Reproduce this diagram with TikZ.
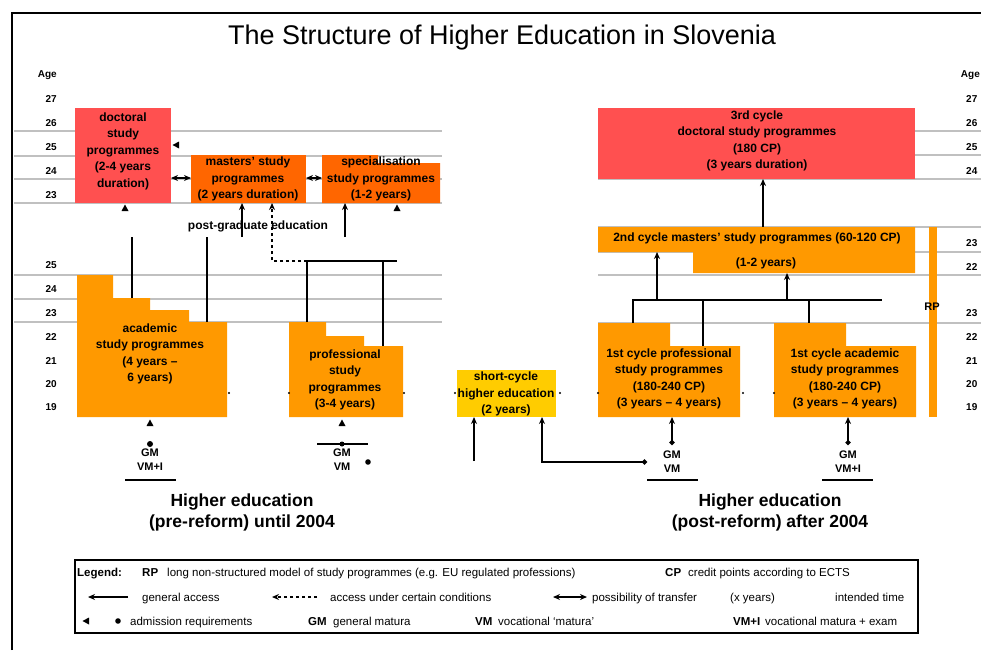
\documentclass[tikz,border=0pt]{standalone}
\usepackage{fontspec}
\setmainfont{Liberation Sans}
\usetikzlibrary{arrows.meta}
\definecolor{docred}{HTML}{FF5050}
\definecolor{mastorange}{HTML}{FF6600}
\definecolor{progorange}{HTML}{FF9900}
\definecolor{shortyellow}{HTML}{FFCC00}
\definecolor{gridgray}{HTML}{C0C0C0}
\newcommand\uptri[2]{\fill (#1,#2-3.5) -- (#1-3.5,#2+3) -- (#1+3.5,#2+3) -- cycle;}
\newcommand\lefttri[2]{\fill (#1-3.5,#2) -- (#1+3,#2-3.5) -- (#1+3,#2+3.5) -- cycle;}
\newcommand\tinymark[2]{\fill (#1,#2) circle (1.1pt);}
\begin{document}
\begin{tikzpicture}[x=1pt,y=-1pt,
  boxtxt/.style={align=center,font=\bfseries\fontsize{12}{16.5}\selectfont,inner sep=0pt},
  agetxt/.style={font=\bfseries\fontsize{10}{12}\selectfont,inner sep=0pt},
  smalltxt/.style={align=center,font=\bfseries\fontsize{11}{14}\selectfont,inner sep=0pt},
  gridline/.style={draw=gridgray,line width=1.6pt},
  conn/.style={line width=1.3pt},
  htip/.tip={Stealth[length=7pt,width=6pt]},
  arr/.style={conn,-htip},
  darr/.style={conn,htip-htip},
  dotarr/.style={conn,{Circle[length=5pt]}-htip},
  legtxt/.style={font=\fontsize{11.5}{13}\selectfont,anchor=base west,inner sep=0pt},
  legkey/.style={font=\bfseries\fontsize{11.5}{13}\selectfont,anchor=base west,inner sep=0pt},
  headtxt/.style={font=\bfseries\fontsize{17.5}{21}\selectfont,align=center,inner sep=0pt},
]
\useasboundingbox (0,0) rectangle (981,650);
\fill[white] (0,0) rectangle (981,650);

% frame
\draw[line width=2pt] (12,650) -- (12,13) -- (981,13);

% title
\node[font=\fontsize{27}{32}\selectfont,inner sep=0pt] (title) at (502,38) {The Structure of Higher Education in Slovenia};

% grid lines
\foreach \yy in {131,156,179,203,275,299,322} {\draw[gridline] (14,\yy) -- (442,\yy);}
\foreach \yy in {131,155,179,227,252,275,323} {\draw[gridline] (598,\yy) -- (981,\yy);}

% age labels left
\node[agetxt,anchor=east] (ageL) at (57,75) {Age};
\foreach \a/\yy in {27/99,26/123,25/147,24/171,23/195,25/265,24/289,23/313,22/337,21/361,20/384,19/407}
  {\node[agetxt,anchor=east] (ageL-\yy) at (57,\yy) {\a};}
% age labels right
\node[agetxt,anchor=east] (ageR) at (980,75) {Age};
\foreach \a/\yy in {27/99,26/123,25/147,24/171,23/243,22/267,23/313,22/337,21/361,20/384,19/407}
  {\node[agetxt,anchor=west] (ageR-\yy) at (966,\yy) {\a};}

% ---------- left boxes ----------
\fill[docred] (75,108) rectangle (171,203);
\fill[mastorange] (191,155) rectangle (306,203);
\fill[mastorange] (322,155) -- (378,155) -- (378,163) -- (440,163) -- (440,203) -- (322,203) -- cycle;
\fill[progorange] (77,275) -- (113,275) -- (113,298) -- (150,298) -- (150,310) -- (189,310) -- (189,322) -- (227,322) -- (227,417) -- (77,417) -- cycle;
\fill[progorange] (289,322) -- (326,322) -- (326,336) -- (364,336) -- (364,346) -- (403,346) -- (403,417) -- (289,417) -- cycle;
\fill[shortyellow] (457,370) rectangle (556,417);

\node[boxtxt] (doctoral) at (123,151) {doctoral\\study\\programmes\\(2-4 years\\duration)};
\node[boxtxt] (masters) at (248,179) {masters' study\\programmes\\(2 years duration)};
\node[boxtxt] (special) at (381,179) {specialisation\\study programmes\\(1-2 years)};
\node[boxtxt] (postgrad) at (258,226) {post-graduate education};
\node[boxtxt] (academic) at (150,354) {academic\\study programmes\\(4 years --\\6 years)};
\node[boxtxt] (professional) at (345,380) {professional\\study\\programmes\\(3-4 years)};
\node[boxtxt] (shortcycle) at (506,394) {short-cycle\\higher education\\(2 years)};

% ---------- right boxes ----------
\fill[docred] (598,108) rectangle (915,179);
\fill[progorange] (598,227) -- (915,227) -- (915,273) -- (693,273) -- (693,252) -- (598,252) -- cycle;
\fill[progorange] (598,323) -- (670,323) -- (670,346) -- (740,346) -- (740,417) -- (598,417) -- cycle;
\fill[progorange] (774,323) -- (846,323) -- (846,346) -- (916,346) -- (916,417) -- (774,417) -- cycle;
\fill[progorange] (929,227) rectangle (937,417);

\node[boxtxt] (doctoralR) at (757,141) {3rd cycle\\doctoral study programmes\\(180 CP)\\(3 years duration)};
\node[boxtxt] (mastersR) at (757,238) {2nd cycle masters' study programmes (60-120 CP)};
\node[boxtxt] (mastersRdur) at (766,263) {(1-2 years)};
\node[boxtxt] (profR) at (669,379) {1st cycle professional\\study programmes\\(180-240 CP)\\(3 years -- 4 years)};
\node[boxtxt] (acadR) at (845,379) {1st cycle academic\\study programmes\\(180-240 CP)\\(3 years -- 4 years)};
\node[smalltxt] (rp) at (932,307) {RP};

% ---------- left connectors ----------
\coordinate (docE) at (171,178); \coordinate (masW) at (191,178);
\coordinate (masE) at (306,178); \coordinate (speW) at (322,178);
\draw[darr] (docE) -- (masW);
\draw[darr] (masE) -- (speW);
\lefttri{176}{145}
\uptri{125}{208}
\uptri{397}{208}
\coordinate (acS2) at (132,298); \coordinate (acS2t) at (132,237);
\coordinate (acS4) at (207,322); \coordinate (acS4t) at (207,237);
\draw[conn] (acS2) -- (acS2t);
\draw[conn] (acS4) -- (acS4t);
\coordinate (pgA) at (242,237); \coordinate (masB1) at (242,203);
\draw[arr] (pgA) -- (masB1);
\coordinate (prJ) at (307,261); \coordinate (prD) at (272,261); \coordinate (masB2) at (272,203);
\draw[arr,dashed] (prJ) -- (prD) -- (masB2);
\coordinate (prT1) at (307,322); \coordinate (prJe) at (397,261);
\coordinate (prT2a) at (383,261); \coordinate (prT2) at (383,346);
\draw[conn] (prT1) -- (prJ) -- (prJe);
\draw[conn] (prT2a) -- (prT2);
\coordinate (spA) at (345,237); \coordinate (speB) at (345,203);
\draw[arr] (spA) -- (speB);

% admission left
\uptri{150}{423}
\fill (150,444) circle (3pt);
\node[smalltxt] (reqA) at (150,460) {GM\\VM+I};
\coordinate (ulA1) at (125,480); \coordinate (ulA2) at (176,480);
\draw[conn] (ulA1) -- (ulA2);
\uptri{342}{423}
\coordinate (ulP1) at (317,444); \coordinate (ulP2) at (368,444);
\draw[conn] (ulP1) -- (ulP2);
\fill (342,444) circle (2.5pt);
\node[smalltxt] (reqP) at (342,460) {GM\\VM};
\fill (368,462) circle (2.8pt);

% ---------- middle connectors ----------
\coordinate (scA) at (474,461); \coordinate (scB1) at (474,417);
\draw[arr] (scA) -- (scB1);
\coordinate (scD) at (647,462); \coordinate (scC) at (542,462); \coordinate (scB2) at (542,417);
\draw[dotarr] (scD) -- (scC) -- (scB2);

% ---------- right connectors ----------
\coordinate (maT) at (763,227); \coordinate (drB) at (763,179);
\draw[arr] (maT) -- (drB);
\coordinate (bus0) at (633,323); \coordinate (bus1) at (633,300); \coordinate (bus2) at (882,300);
\draw[conn] (bus0) -- (bus1) -- (bus2);
\coordinate (busP) at (703,300); \coordinate (prS) at (703,346);
\draw[conn] (busP) -- (prS);
\coordinate (busA) at (809,300); \coordinate (acT) at (809,323);
\draw[conn] (busA) -- (acT);
\coordinate (busM1) at (657,300); \coordinate (maB1) at (657,252);
\draw[arr] (busM1) -- (maB1);
\coordinate (busM2) at (787,300); \coordinate (maB2) at (787,273);
\draw[arr] (busM2) -- (maB2);

\coordinate (rqP) at (672,445); \coordinate (prB) at (672,417);
\draw[dotarr] (rqP) -- (prB);
\node[smalltxt] (reqRP) at (672,462) {GM\\VM};
\coordinate (ulR1) at (647,480); \coordinate (ulR2) at (698,480);
\draw[conn] (ulR1) -- (ulR2);
\coordinate (rqA) at (848,445); \coordinate (acB) at (848,417);
\draw[dotarr] (rqA) -- (acB);
\node[smalltxt] (reqRA) at (848,462) {GM\\VM+I};
\coordinate (ulR3) at (822,480); \coordinate (ulR4) at (873,480);
\draw[conn] (ulR3) -- (ulR4);

% tiny transfer marks
\foreach \xx in {229,289,404,455,560,598,743,774} {\tinymark{\xx}{393}}

% headings
\node[headtxt] (preref) at (242,512) {Higher education\\(pre-reform) until 2004};
\node[headtxt] (postref) at (770,512) {Higher education\\(post-reform) after 2004};

% ---------- legend ----------
\draw[line width=1.6pt] (75,560) rectangle (918,633);
\node[legkey] (lgLegend) at (77,576) {Legend:};
\node[legkey] (lgRP) at (142,576) {RP};
\node[legtxt] (lgRPt) at (167,576) {long non-structured model of study programmes (e.g. EU regulated professions)};
\node[legkey] (lgCP) at (665,576) {CP};
\node[legtxt] (lgCPt) at (688,576) {credit points according to ECTS};

\coordinate (lgA1) at (128,597); \coordinate (lgA2) at (88,597);
\draw[arr] (lgA1) -- (lgA2);
\node[legtxt] (lgGen) at (142,601) {general access};
\coordinate (lgB1) at (317,597); \coordinate (lgB2) at (272,597);
\draw[arr,dashed] (lgB1) -- (lgB2);
\node[legtxt] (lgCond) at (330,601) {access under certain conditions};
\coordinate (lgC1) at (553,597); \coordinate (lgC2) at (587,597);
\draw[darr] (lgC1) -- (lgC2);
\node[legtxt] (lgTr) at (592,601) {possibility of transfer};
\node[legtxt] (lgX) at (730,601) {(x years)};
\node[legtxt] (lgDur) at (835,601) {intended time};

\lefttri{86}{621}
\fill (118,621) circle (2.8pt);
\node[legtxt] (lgAdm) at (130,625) {admission requirements};
\node[legkey] (lgGM) at (308,625) {GM};
\node[legtxt] (lgGMt) at (333,625) {general matura};
\node[legkey] (lgVM) at (475,625) {VM};
\node[legtxt] (lgVMt) at (498,625) {vocational `matura'};
\node[legkey] (lgVMI) at (733,625) {VM+I};
\node[legtxt] (lgVMIt) at (765,625) {vocational matura + exam};
\end{tikzpicture}
\end{document}
